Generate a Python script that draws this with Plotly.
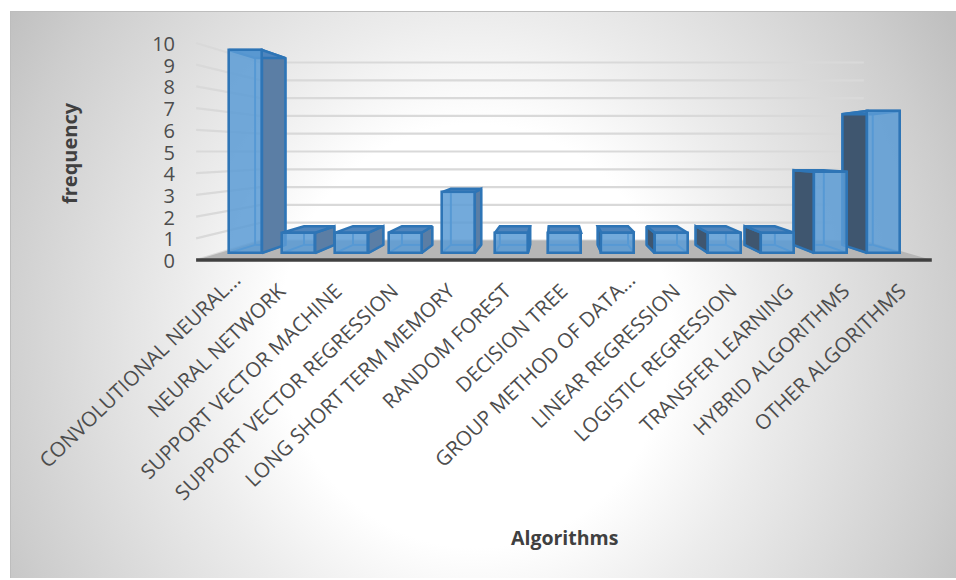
import base64
import plotly.graph_objects as go

categories = ["CONVOLUTIONAL NEURAL...", "NEURAL NETWORK", "SUPPORT VECTOR MACHINE",
              "SUPPORT VECTOR REGRESSION", "LONG SHORT TERM MEMORY", "RANDOM FOREST",
              "DECISION TREE", "GROUP METHOD OF DATA...", "LINEAR REGRESSION",
              "LOGISTIC REGRESSION", "TRANSFER LEARNING", "HYBRID ALGORITHMS", "OTHER ALGORITHMS"]
values = [10, 1, 1, 1, 3, 1, 1, 1, 1, 1, 1, 4, 7]
y_ticks = list(range(0, 11))

W, H = 956, 580
STEP = 53.2          # px per category at the bar front plane
UNIT = 20.3          # px per value at the bar front plane
X0, Y0 = 245.5, 253  # pixel of category 0 / value 0 at that plane
HALF = 0.31          # half bar width in category units
AXIS_PX = 263        # pixel row of the bottom of the plot area (tick labels hang from it)
LABEL_X0, LABEL_STEP = 234.8, 56.4  # labels sit on the wider front edge of the floor

# one-point perspective, depths expressed relative to the bar front plane
VU, VV = 5.818, 5.0
F_WALL_FRONT, F_WALL_BACK, F_BAR_BACK = 1.0695, 0.877, 0.92
U_LEFT, U_RIGHT = -0.49, 12.44


def pr(u, v, f):
    return VU + (u - VU) * f, VV + (v - VV) * f


def poly(points, fill, line=None, width=0):
    xs = [p[0] for p in points] + [points[0][0]]
    ys = [p[1] for p in points] + [points[0][1]]
    return go.Scatter(x=xs, y=ys, mode="lines", fill="toself", fillcolor=fill,
                      line=dict(color=line or "rgba(0,0,0,0)", width=width),
                      hoverinfo="skip", showlegend=False)


def seg(a, b, color, width):
    return go.Scatter(x=[a[0], b[0]], y=[a[1], b[1]], mode="lines",
                      line=dict(color=color, width=width), hoverinfo="skip", showlegend=False)


svg = """<svg xmlns='http://www.w3.org/2000/svg' width='946' height='567'>
<defs><radialGradient id='g' gradientUnits='userSpaceOnUse' cx='0' cy='0' r='1'
 gradientTransform='translate(465 325) scale(558 605)'>
<stop offset='0' stop-color='#ffffff'/><stop offset='0.35' stop-color='#ffffff'/>
<stop offset='0.53' stop-color='#ececec'/><stop offset='0.87' stop-color='#cdcdcd'/>
<stop offset='1' stop-color='#bfbfbf'/></radialGradient></defs>
<rect width='946' height='567' fill='url(#g)'/>
<path d='M0.5 567 V0.5 H946' fill='none' stroke='#bdbdbd'/></svg>"""
bg = "data:image/svg+xml;base64," + base64.b64encode(svg.encode()).decode()

fig = go.Figure()
GRID = "#d9d9d9"

# walls
for t in y_ticks:
    fig.add_trace(seg(pr(U_LEFT, t, F_WALL_FRONT), pr(U_LEFT, t, F_WALL_BACK), GRID, 2.2))
    fig.add_trace(seg(pr(U_LEFT, t, F_WALL_BACK), pr(U_RIGHT, t, F_WALL_BACK), GRID, 2.2))

# floor
fig.add_trace(poly([pr(U_LEFT, 0, F_WALL_FRONT), pr(U_RIGHT, 0, F_WALL_FRONT),
                    pr(U_RIGHT, 0, F_WALL_BACK), pr(U_LEFT, 0, F_WALL_BACK)], "#b6b6b6"))
fig.add_trace(seg(pr(U_LEFT, 0, F_WALL_FRONT), pr(U_RIGHT, 0, F_WALL_FRONT), "#404040", 3.5))

# inner back-face edges, then bar sides and tops, outermost bars first
EDGE = "#2e75b6"
INNER = "#3f8ad2"
order = sorted(range(len(values)), key=lambda k: -abs(k - VU))
for i in order:
    v = values[i]
    l, r = i - HALF, i + HALF
    fig.add_trace(seg(pr(l, 0, F_BAR_BACK), pr(l, v, F_BAR_BACK), INNER, 2))
    fig.add_trace(seg(pr(r, 0, F_BAR_BACK), pr(r, v, F_BAR_BACK), INNER, 2))
    fig.add_trace(seg(pr(l, 0, F_BAR_BACK), pr(r, 0, F_BAR_BACK), INNER, 2))
    fig.add_trace(seg(pr(l, 0, 1), pr(l, 0, F_BAR_BACK), INNER, 2))
    fig.add_trace(seg(pr(r, 0, 1), pr(r, 0, F_BAR_BACK), INNER, 2))
    if r < VU:
        side, col = r, "#5b7ea5"
    elif l > VU:
        side, col = l, "#3f566f"
    else:
        side, col = None, None
    if side is not None:
        fig.add_trace(poly([pr(side, 0, 1), pr(side, v, 1), pr(side, v, F_BAR_BACK), pr(side, 0, F_BAR_BACK)],
                           col, EDGE, 2.5))
    fig.add_trace(poly([pr(l, v, 1), pr(r, v, 1), pr(r, v, F_BAR_BACK), pr(l, v, F_BAR_BACK)],
                       "#4f85bd", EDGE, 2.5))

# front faces: real bars on the overlaid category axis
fig.add_trace(go.Bar(x=categories, y=values, xaxis="x2", yaxis="y2", width=2 * HALF,
                     marker=dict(color="rgba(91,155,213,0.85)", line=dict(color=EDGE, width=2.6)),
                     showlegend=False, hoverinfo="x+y"))

# carriers for the axis labels
fig.add_trace(go.Scatter(x=[U_LEFT] * len(y_ticks), y=y_ticks, yaxis="y3", mode="markers",
                         marker=dict(opacity=0), hoverinfo="skip", showlegend=False))
fig.add_trace(go.Scatter(x=categories, y=values, xaxis="x3", yaxis="y", mode="markers",
                         marker=dict(opacity=0), hoverinfo="skip", showlegend=False))

# labels that are not truncated sit a little further along their slant
label_text = [c if c.endswith("...") else c + "\u00a0\u00a0\u00a0" for c in categories]

x_rng = [(0 - X0) / STEP, (W - X0) / STEP]
y_rng = [(Y0 - AXIS_PX) / UNIT, Y0 / UNIT]
y_dom = [(H - AXIS_PX) / H, 1]
hidden = dict(visible=False, showgrid=False, zeroline=False, fixedrange=True)
FONT = "Open Sans"
TEXT = "#4d4d4d"

fig.update_layout(
    width=W, height=H, margin=dict(l=0, r=0, t=0, b=0),
    paper_bgcolor="white", plot_bgcolor="rgba(0,0,0,0)",
    font=dict(family=FONT, color=TEXT), showlegend=False, bargap=0,
    xaxis=dict(range=x_rng, domain=[0, 1], **hidden),
    yaxis=dict(range=y_rng, domain=y_dom, **hidden),
    xaxis2=dict(type="category", categoryorder="array", categoryarray=categories, range=x_rng,
                overlaying="x", anchor="y2", domain=[0, 1], showticklabels=False, ticks="",
                showline=False, showgrid=False, zeroline=False, fixedrange=True),
    xaxis3=dict(type="category", categoryorder="array", categoryarray=categories,
                range=[(0 - LABEL_X0) / LABEL_STEP, (W - LABEL_X0) / LABEL_STEP],
                overlaying="x", anchor="y", domain=[0, 1], side="bottom", tickangle=-44,
                tickmode="array", tickvals=categories, ticktext=label_text,
                tickfont=dict(size=20.5, family=FONT, color=TEXT), ticks="",
                showline=False, showgrid=False, zeroline=False, automargin=False, fixedrange=True),
    yaxis2=dict(range=y_rng, overlaying="y", anchor="x2", domain=y_dom, showgrid=False, zeroline=False,
                showticklabels=False, ticks="", showline=False, fixedrange=True),
    yaxis3=dict(range=[(261 - AXIS_PX) / 21.7, 261 / 21.7], overlaying="y", anchor="free", position=175 / W,
                domain=y_dom, side="left", tickmode="array", tickvals=y_ticks,
                ticktext=[str(t) for t in y_ticks],
                tickfont=dict(size=20, family=FONT, color=TEXT), showgrid=False, zeroline=False,
                ticks="", showline=False, automargin=False, fixedrange=True),
    images=[dict(source=bg, xref="paper", yref="paper", x=10 / W, y=1 - 11 / H, sizex=946 / W, sizey=567 / H,
                 sizing="stretch", xanchor="left", yanchor="top", layer="below")],
    annotations=[
        dict(text="<b>frequency</b>", xref="paper", yref="paper", x=69 / W, y=1 - 153 / H, textangle=-90,
             xanchor="center", yanchor="middle", showarrow=False,
             font=dict(size=20, family=FONT, color="#404040")),
        dict(text="<b>Algorithms</b>", xref="paper", yref="paper", x=564 / W, y=1 - 537 / H,
             xanchor="center", yanchor="middle", showarrow=False,
             font=dict(size=19.5, family=FONT, color="#404040")),
    ],
)

fig.write_html("out.html", config={"displayModeBar": False},
               post_script="document.body.style.margin='0';document.documentElement.style.overflow='hidden';")
